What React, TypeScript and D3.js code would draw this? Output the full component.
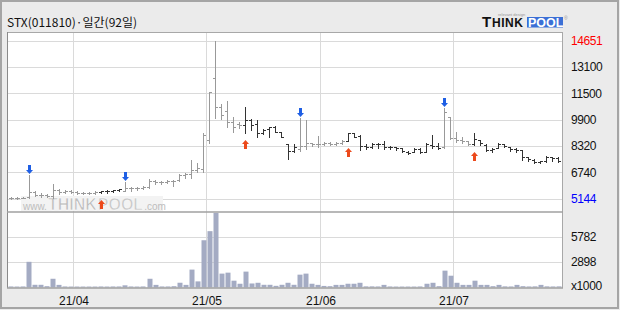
import React from "react";
import * as d3 from "d3";

// ---- data ----
const opens = [5230,5220,5200,5250,5570,5400,5380,5300,5680,5560,5640,5580,5520,5480,5500,5540,5620,5600,5660,5640,5780,5800,5820,5880,6210,6160,6180,6200,6260,6560,6650,6900,6950,8690,12406,10700,10440,9750,9650,9620,9900,9650,9100,9350,9470,9150,8450,8060,8150,8350,8500,8450,8480,8500,8470,8520,8640,9130,8950,8350,8300,8450,8430,8300,8250,8200,8000,8000,8150,8000,8400,8350,8300,10050,8810,8720,8620,8450,8700,8420,8100,8200,8450,8250,8150,8100,7650,7500,7350,7420,7650,7600];
const highs = [5260,5240,5280,6560,5620,5480,5420,6030,5720,5680,5700,5640,5580,5560,5600,5650,5680,5700,5760,6185,5860,5860,5920,6350,6290,6250,6290,6290,6650,6730,7490,7310,9110,11580,14651,10860,11060,10060,9800,10660,9960,9900,9350,9490,9530,9190,8480,8430,10000,9900,8540,8940,8560,8590,8570,8720,9130,9140,9000,8440,8500,8500,8640,8330,8300,8220,8030,8200,8200,8500,9000,8520,10620,10060,9190,8890,8650,9100,8720,8430,8200,8500,8480,8260,8200,8100,7650,7550,7450,7730,7700,7650];
const lows = [5170,5144,5180,5230,5330,5290,5260,5200,5450,5500,5520,5460,5420,5420,5440,5500,5520,5560,5600,5600,5640,5700,5740,5820,6050,6050,6080,5950,6200,6400,6400,6780,6780,8490,9999,9940,9460,9190,9400,9130,9300,8890,9050,8890,9190,8850,7550,7980,8030,8170,8330,8300,8370,8420,8400,8460,8630,8880,8100,8150,8220,8230,8150,8140,8100,7950,7830,7990,7900,7990,8190,8150,8220,8750,8590,8510,8390,8390,8400,8030,8000,8190,8250,8050,8000,7490,7450,7290,7300,7400,7440,7390];
const closes = [5220,5200,5230,5580,5400,5380,5300,5680,5560,5640,5580,5520,5480,5500,5540,5620,5600,5660,5720,5780,5800,5820,5880,6210,6160,6180,6200,6250,6560,6620,6900,6980,9000,11560,10698,10200,9800,9500,9620,9900,9600,9100,9280,9470,9200,8900,8060,8300,8330,8500,8450,8480,8500,8470,8500,8640,9100,8900,8350,8250,8450,8430,8300,8250,8200,8050,7900,8150,7980,8450,8350,8230,10360,8810,8700,8650,8450,8750,8500,8100,8150,8450,8320,8150,8100,7650,7550,7350,7420,7650,7600,7450];
const volumes = [120,110,120,2940,310,310,150,1000,300,120,110,110,110,110,110,120,110,120,120,250,120,110,120,1000,300,120,120,150,545,300,2050,700,5410,6450,8540,1590,1700,780,430,1820,460,540,310,310,190,310,540,310,1470,1590,430,300,180,150,300,300,430,430,540,130,130,120,300,120,110,110,110,110,120,430,540,150,1930,1350,540,300,300,780,300,300,150,300,130,120,300,150,120,130,300,130,120,130];
const buySignals = [15, 39, 56, 77];
const sellSignals = [3, 19, 48, 72];
const priceTicks = [14651, 13100, 11500, 9900, 8320, 6740, 5144];
const volumeTicks = [5782, 2898];
const monthLabels = ["21/04", "21/05", "21/06", "21/07"];
const monthStarts = [11, 33, 52, 74];
const title = "STX(011810)\u00B7일간(92일)";

export default function App() {
  const n = closes.length;
  const idx = d3.range(n);
  const x = d3.scaleBand<number>().domain(idx).range([8, 562]).padding(0);
  const bw = x.bandwidth();
  const yP = d3.scaleLinear().domain([5144, 14651]).range([199, 41]);
  const yV = d3.scaleLinear().domain([0, 5782]).range([287.5, 237]);
  const cx = (i: number) => Math.floor((x(i) as number) + bw / 2) + 0.5;
  const ry = (v: number) => Math.round(v) + 0.5;

  const state: boolean[] = [];
  let buy = false;
  idx.forEach((i) => {
    if (buySignals.includes(i)) buy = true;
    if (sellSignals.includes(i)) buy = false;
    state.push(buy);
  });

  const num = "'Liberation Sans', Arial, sans-serif";
  const kr = "'Noto Sans CJK KR', 'Noto Sans', sans-serif";

  return (
    <div style={{ position: "fixed", left: 0, top: 0 }}>
      <svg width={620} height={310} style={{ display: "block" }}>
        <rect x={0} y={0} width={620} height={310} fill="#ebebeb" />
        <rect x={1} y={1} width={617} height={307} fill="none" stroke="#a5a5a5" strokeWidth={2} />
        <text x={7} y={27} fontFamily={kr} fontSize={12} fill="#111">{title}</text>

        {/* logo */}
        <g>
          <text x={498} y={16} fontFamily={num} fontSize={4} fill="#999">relevant design</text>
          <text x={482} y={27} fontFamily={num} fontWeight="bold" fontSize={15} fill="#111">T</text>
          <text x={492} y={27} fontFamily={num} fontWeight="bold" fontSize={12} fill="#111" letterSpacing={0.5}>HINK</text>
          <rect x={527} y={17} width={36} height={10.5} fill="#3b6fd6" />
          <text x={528} y={27} fontFamily={num} fontWeight="bold" fontSize={12.5} fill="#fff">POOL</text>
          <text x={564} y={20} fontFamily={num} fontSize={5} fill="#999">®</text>
        </g>

        <rect x={7.5} y={32.5} width={555} height={255} fill="#fff" />

        {/* grids */}
        {priceTicks.map((t) => (
          <line key={"pg" + t} x1={8} x2={562} y1={ry(yP(t))} y2={ry(yP(t))} stroke="#dadada" />
        ))}
        {volumeTicks.map((t) => (
          <line key={"vg" + t} x1={8} x2={562} y1={ry(yV(t))} y2={ry(yV(t))} stroke="#dadada" />
        ))}
        {monthStarts.map((m) => (
          <line key={"mg" + m} x1={Math.round(x(m) as number) - 0.5} x2={Math.round(x(m) as number) - 0.5} y1={33} y2={287} stroke="#dadada" />
        ))}

        {/* watermark */}
        <rect x={21} y={196} width={142} height={15} fill="#f3f3f3" />
        <text x={23} y={210} fontFamily={num} fill="#bdbdbd">
          <tspan fontSize={10}>www.</tspan>
          <tspan fontSize={16} fontWeight="bold" stroke="#fff" strokeWidth={0.5} dx={1}>THINK</tspan>
          <tspan fontSize={16} fontWeight="bold" fill="#c9c9c9" stroke="#fff" strokeWidth={0.5} dx={1}>POOL</tspan>
          <tspan fontSize={10} dx={1}>.com</tspan>
        </text>

        {/* volume bars */}
        {idx.map((i) => {
          const top = yV(volumes[i]);
          return (
            <rect key={"v" + i} x={Math.round(x(i) as number) + 0.5} y={top} width={5} height={287.5 - top} fill="#a4abc3" />
          );
        })}

        {/* OHLC bars */}
        {idx.map((i) => {
          const c = cx(i);
          const col = state[i] ? "#333333" : "#999999";
          const yh = Math.round(yP(highs[i]));
          const yl = Math.round(yP(lows[i]));
          return (
            <g key={"b" + i} stroke={col} strokeWidth={1}>
              <line x1={c} x2={c} y1={yh} y2={Math.max(yl, yh + 1) + 1} />
              <line x1={c - 2.5} x2={c} y1={ry(yP(opens[i]))} y2={ry(yP(opens[i]))} />
              <line x1={c} x2={c + 2.5} y1={ry(yP(closes[i]))} y2={ry(yP(closes[i]))} />
            </g>
          );
        })}

        {/* signals */}
        {sellSignals.map((i) => {
          const c = cx(i);
          const t = Math.round(yP(highs[i])) - 10;
          return (
            <g key={"s" + i} fill="#1f5fe4">
              <rect x={c - 1.5} y={t} width={3} height={5} />
              <path d={`M${c - 3.5},${t + 5}L${c + 3.5},${t + 5}L${c},${t + 9}Z`} />
            </g>
          );
        })}
        {buySignals.map((i) => {
          const c = cx(i);
          const t = Math.round(yP(lows[i])) + 7;
          return (
            <g key={"u" + i} fill="#ec4a1c">
              <path d={`M${c},${t}L${c + 3.5},${t + 4}L${c - 3.5},${t + 4}Z`} />
              <rect x={c - 1.5} y={t + 4} width={3} height={5} />
            </g>
          );
        })}

        {/* frame lines */}
        <line x1={7} x2={563} y1={32.5} y2={32.5} stroke="#a8a8a8" />
        <line x1={7.5} x2={7.5} y1={32} y2={288} stroke="#8a8a8a" />
        <line x1={562.5} x2={562.5} y1={32} y2={288} stroke="#a8a8a8" />
        <line x1={7} x2={563} y1={212} y2={212} stroke="#a0a0a0" strokeWidth={1.5} />
        <line x1={7} x2={563} y1={288} y2={288} stroke="#a0a0a0" strokeWidth={1.5} />

        {/* axis labels */}
        {priceTicks.map((t, k) => (
          <text key={"pl" + t} x={571} y={yP(t) + 1} dominantBaseline="middle" fontFamily={num} fontSize={12} letterSpacing={-0.4}
            fill={k === 0 ? "#ff0000" : k === priceTicks.length - 1 ? "#0000ff" : "#111"}>{t}</text>
        ))}
        {volumeTicks.map((t) => (
          <text key={"vl" + t} x={571} y={yV(t) + 1} dominantBaseline="middle" fontFamily={num} fontSize={12} letterSpacing={-0.4} fill="#111">{t}</text>
        ))}
        <text x={571} y={287} dominantBaseline="middle" fontFamily={num} fontSize={12} letterSpacing={-0.4} fill="#111">x1000</text>
        {monthLabels.map((m, k) => (
          <text key={"ml" + m} x={Math.round(x(monthStarts[k]) as number)} y={305} textAnchor="middle" fontFamily={num} fontSize={12} fill="#111">{m}</text>
        ))}
      </svg>
    </div>
  );
}
